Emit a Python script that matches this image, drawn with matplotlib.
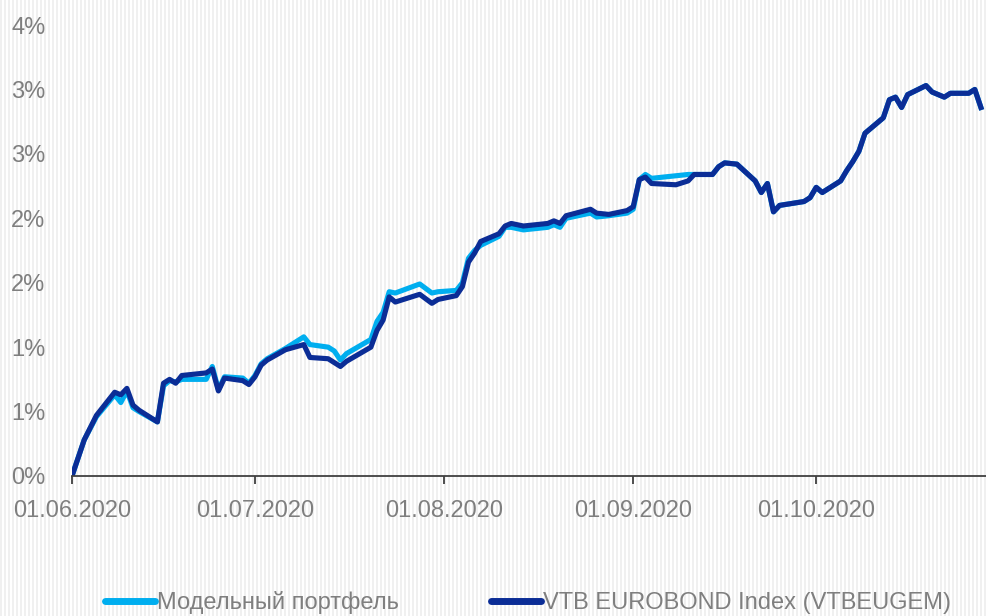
import numpy as np
import pandas as pd
import matplotlib
matplotlib.use("Agg")
import matplotlib.pyplot as plt
import matplotlib.dates as mdates

# trading days
dates = [
    "2020-06-01", "2020-06-03", "2020-06-05", "2020-06-08", "2020-06-09", "2020-06-10",
    "2020-06-11", "2020-06-12", "2020-06-15", "2020-06-16", "2020-06-17", "2020-06-18",
    "2020-06-19", "2020-06-23", "2020-06-24", "2020-06-25", "2020-06-26", "2020-06-29",
    "2020-06-30",
    "2020-07-01", "2020-07-02", "2020-07-03", "2020-07-06", "2020-07-09", "2020-07-10",
    "2020-07-13", "2020-07-14", "2020-07-15", "2020-07-16", "2020-07-20", "2020-07-21",
    "2020-07-22", "2020-07-23", "2020-07-24", "2020-07-28", "2020-07-30", "2020-07-31",
    "2020-08-03", "2020-08-04", "2020-08-05", "2020-08-06", "2020-08-07", "2020-08-10",
    "2020-08-11", "2020-08-12", "2020-08-14", "2020-08-18", "2020-08-19", "2020-08-20",
    "2020-08-21", "2020-08-25", "2020-08-26", "2020-08-28", "2020-08-31",
    "2020-09-01", "2020-09-02", "2020-09-03", "2020-09-04", "2020-09-08", "2020-09-10",
    "2020-09-11", "2020-09-14", "2020-09-15", "2020-09-16", "2020-09-18", "2020-09-21",
    "2020-09-22", "2020-09-23", "2020-09-24", "2020-09-25", "2020-09-29", "2020-09-30",
    "2020-10-01", "2020-10-02", "2020-10-05", "2020-10-06", "2020-10-07", "2020-10-08",
    "2020-10-09", "2020-10-12", "2020-10-13", "2020-10-14", "2020-10-15", "2020-10-16",
    "2020-10-19", "2020-10-20", "2020-10-22", "2020-10-23", "2020-10-26", "2020-10-27",
    "2020-10-28",
]

# cumulative return, %
index_vals = [
    0.00, 0.28, 0.47, 0.65, 0.63, 0.68, 0.55, 0.51, 0.42, 0.72, 0.75, 0.72, 0.78, 0.80,
    0.83, 0.66, 0.76, 0.74, 0.71,
    0.77, 0.86, 0.90, 0.98, 1.02, 0.92, 0.91, 0.88, 0.85, 0.89, 1.00, 1.13, 1.21, 1.39,
    1.35, 1.41, 1.34, 1.37,
    1.40, 1.47, 1.66, 1.73, 1.82, 1.88, 1.94, 1.96, 1.94, 1.96, 1.98, 1.96, 2.02, 2.07,
    2.04, 2.03, 2.06,
    2.09, 2.30, 2.32, 2.27, 2.26, 2.29, 2.34, 2.34, 2.40, 2.43, 2.42, 2.29, 2.20, 2.27,
    2.05, 2.10, 2.13, 2.16,
    2.24, 2.20, 2.29, 2.37, 2.44, 2.52, 2.66, 2.78, 2.92, 2.94, 2.86, 2.96, 3.03, 2.98,
    2.94, 2.97, 2.97, 3.00, 2.86,
]

portfolio_vals = [
    0.00, 0.28, 0.46, 0.63, 0.57, 0.66, 0.53, 0.50, 0.42, 0.70, 0.74, 0.73, 0.75, 0.75,
    0.85, 0.67, 0.77, 0.76, 0.72,
    0.78, 0.87, 0.91, 0.99, 1.08, 1.02, 1.00, 0.97, 0.90, 0.95, 1.06, 1.20, 1.27, 1.43,
    1.42, 1.49, 1.42, 1.43,
    1.44, 1.50, 1.69, 1.75, 1.79, 1.86, 1.93, 1.93, 1.91, 1.93, 1.95, 1.93, 2.00, 2.04,
    2.01, 2.02, 2.04,
    2.07, 2.30, 2.34, 2.31, 2.33, 2.34, 2.34, 2.34, 2.40, 2.43, 2.42, 2.29, 2.20, 2.27,
    2.05, 2.10, 2.13, 2.16,
    2.24, 2.20, 2.29, 2.37, 2.44, 2.52, 2.66, 2.78, 2.92, 2.94, 2.86, 2.96, 3.03, 2.98,
    2.94, 2.97, 2.97, 3.00, 2.86,
]

ytick_vals = [0.0, 0.5, 1.0, 1.5, 2.0, 2.5, 3.0, 3.5]
ytick_labels = ["0%", "1%", "1%", "2%", "2%", "3%", "3%", "4%"]
series_names = ["Модельный портфель", "VTB EUROBOND Index (VTBEUGEM)"]

LIGHT = "#00AEEF"
DARK = "#0B2D96"
GREY = "#7F7F7F"
FS = 17

plt.rcParams["font.family"] = ["Liberation Sans", "DejaVu Sans"]

x = pd.to_datetime(dates)

fig = plt.figure(figsize=(9.87, 6.16), dpi=100)

# faint vertical stripes of the background
h, w = 616, 987
bg = np.ones((h, w, 3))
cols = np.arange(w) % 4 < 2
bg[:, cols, :] = 0.945
fig.figimage(bg, xo=0, yo=0, zorder=-1)

ax = fig.add_axes([72 / 987, 1 - 476 / 616, 1 - 72 / 987, (476 - 25) / 616])
ax.patch.set_alpha(0)

ax.plot(x, portfolio_vals, color=LIGHT, lw=3.7, solid_joinstyle="round",
        label=series_names[0])
ax.plot(x, index_vals, color=DARK, lw=3.7, solid_joinstyle="round",
        label=series_names[1])

ax.set_xlim(pd.Timestamp("2020-06-01"), pd.Timestamp("2020-10-29"))
ax.set_ylim(0, 3.5)
ax.set_yticks(ytick_vals)
ax.set_yticklabels(ytick_labels)
ax.xaxis.set_major_locator(mdates.MonthLocator(bymonthday=1))
ax.xaxis.set_major_formatter(mdates.DateFormatter("%d.%m.%Y"))

for s in ["top", "right", "left"]:
    ax.spines[s].set_visible(False)
ax.spines["bottom"].set_color("#404040")
ax.spines["bottom"].set_linewidth(1.3)

ax.tick_params(axis="y", length=0, pad=19, labelsize=FS, labelcolor=GREY)
ax.tick_params(axis="x", length=6, width=1.3, color="#404040", direction="out",
               pad=11, labelsize=FS, labelcolor=GREY)

leg = fig.legend(loc="center", bbox_to_anchor=(0.535, 1 - 603 / 616), ncol=2,
                 frameon=False, fontsize=FS, handlelength=2.1, handletextpad=0.1,
                 columnspacing=3.9)
for t in leg.get_texts():
    t.set_color(GREY)
for line in leg.get_lines():
    line.set_linewidth(5)
    line.set_solid_capstyle("round")

fig.savefig("out.png", dpi=100)
